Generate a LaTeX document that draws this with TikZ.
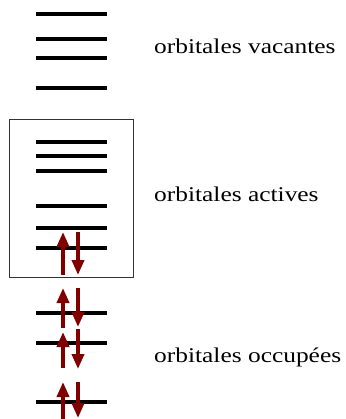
\documentclass[tikz,border=0pt]{standalone}
\usepackage{fontspec}
\usepackage{graphicx}
\setmainfont{Liberation Serif}
\usetikzlibrary{arrows.meta}

\begin{document}
\begin{tikzpicture}[x=1pt, y=-1pt,
    level/.style={line width=3.2pt, black},
    spin/.style={line width=3.6pt, draw={rgb,255:red,128;green,0;blue,0},
                 -{Triangle[length=15pt, width=12pt]}},
    label/.style={anchor=base west, inner sep=0pt,
                  font=\fontsize{21}{25}\selectfont}]
    \useasboundingbox (0, 0) rectangle (345, 419);
    % vacant levels
    \foreach \y in {14, 39, 58, 88} {
        \draw[level] (36, \y) -- (107, \y);
    }
    % active space
    \draw[line width=1pt, black!80] (9, 120) rectangle (133, 277);
    \foreach \y in {142, 156, 171, 206, 228, 248} {
        \draw[level] (36, \y) -- (107, \y);
    }
    % occupied levels
    \foreach \y in {313, 343, 402} {
        \draw[level] (36, \y) -- (107, \y);
    }
    % electron pairs
    \draw[spin] (63, 275) -- (63, 232);
    \draw[spin] (78, 232) -- (78, 275);
    \draw[spin] (63, 328) -- (63, 288);
    \draw[spin] (78, 288) -- (78, 327);
    \draw[spin] (63, 368) -- (63, 332);
    \draw[spin] (78, 329) -- (78, 369);
    \draw[spin] (63, 419) -- (63, 382);
    \draw[spin] (78, 382) -- (78, 418);
    \node[label] (vacantes) at (154, 54) {\scalebox{1.21}[1]{orbitales vacantes}};
    \node[label] (actives) at (154, 202) {\scalebox{1.21}[1]{orbitales actives}};
    \node[label] (occupees) at (154, 362) {\scalebox{1.21}[1]{orbitales occupées}};
\end{tikzpicture}
\end{document}
